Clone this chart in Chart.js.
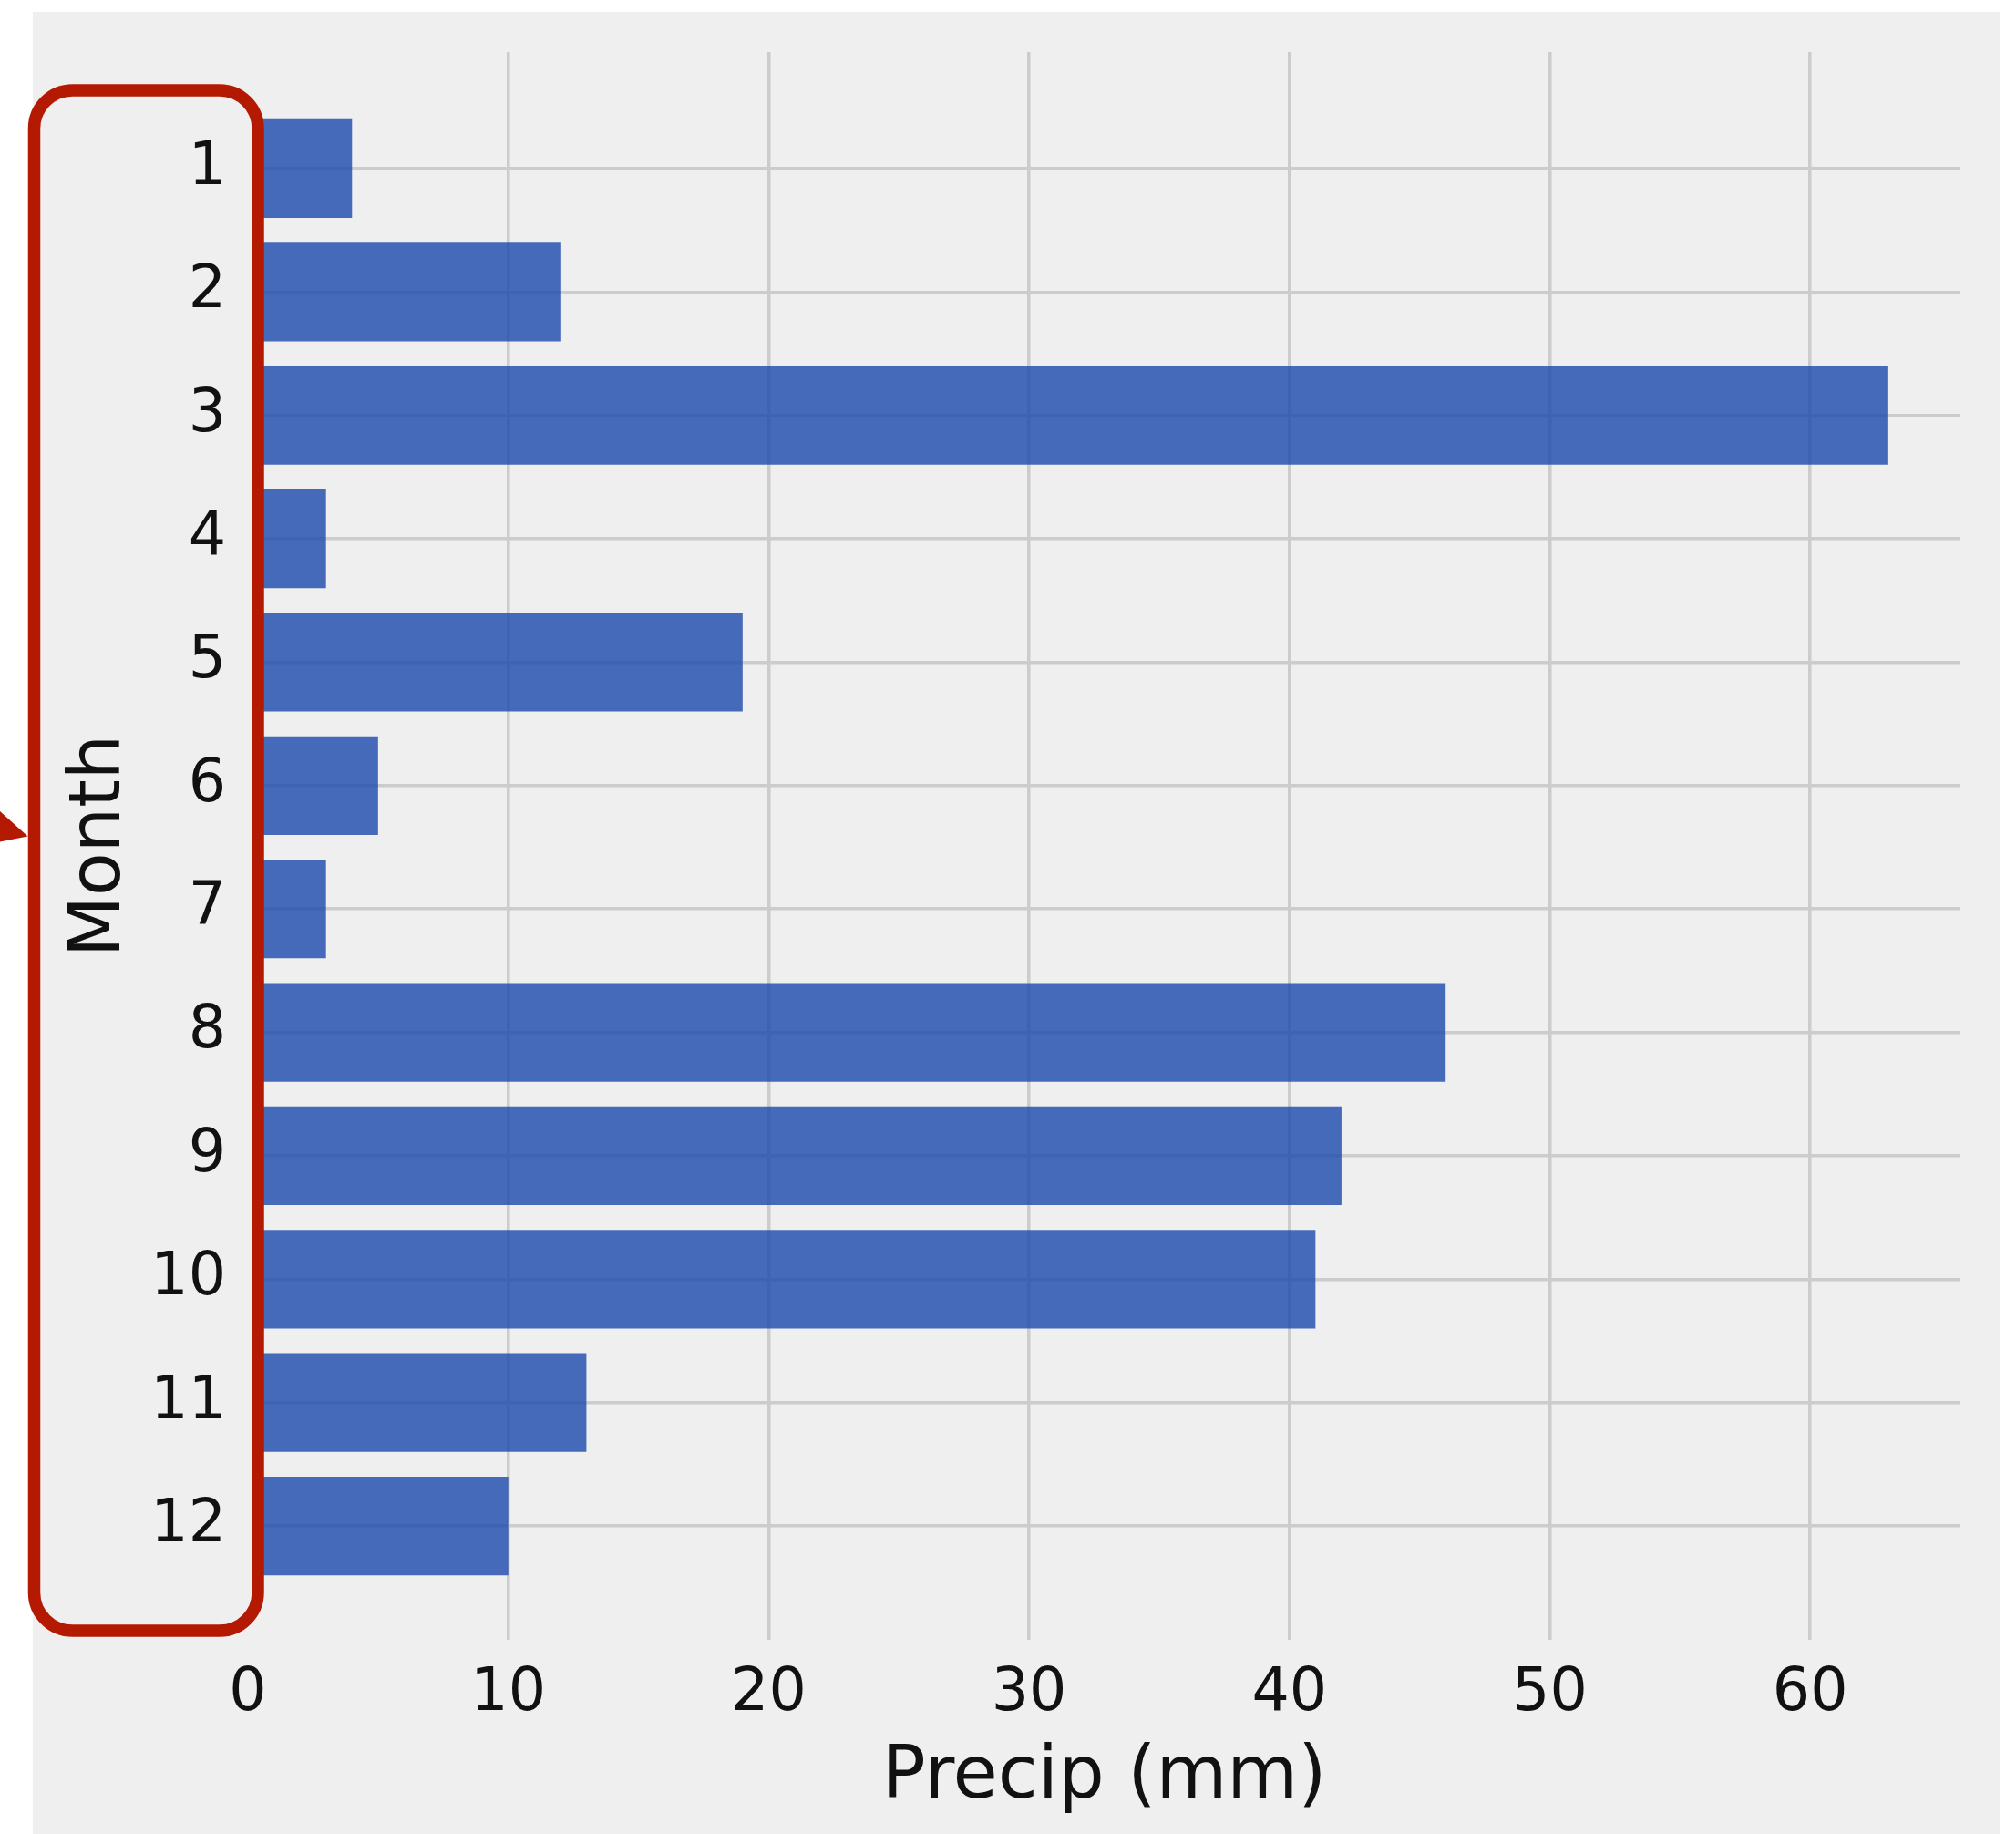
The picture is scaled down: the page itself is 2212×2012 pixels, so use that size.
<!DOCTYPE html>
<html>
<head>
<meta charset="utf-8">
<title>Precip by month</title>
<script src="https://cdn.jsdelivr.net/npm/chart.js@4.4.1/dist/chart.umd.min.js"></script>
<style>
  html, body { margin: 0; padding: 0; background: #ffffff; }
  .chart-container { position: relative; width: 2212px; height: 2012px; }
</style>
</head>
<body>
<div class="chart-container"><canvas id="precipChart"></canvas></div>
<script>
// data
const months = [1, 2, 3, 4, 5, 6, 7, 8, 9, 10, 11, 12];
const precip = [4, 12, 63, 3, 19, 5, 3, 46, 42, 41, 13, 10];
const precipTicks = [0, 10, 20, 30, 40, 50, 60];
const monthTitle = "Month";
const precipTitle = "Precip (mm)";

const fontFamily = "'DejaVu Sans', 'Liberation Sans', sans-serif";
const gridColor = "#cccccc";
const panelColor = "#efefef";

// grey figure panel behind everything
const figureBackground = {
  id: "figureBackground",
  beforeDraw(chart) {
    const ctx = chart.ctx;
    ctx.save();
    ctx.fillStyle = "#ffffff";
    ctx.fillRect(0, 0, chart.width, chart.height);
    ctx.fillStyle = panelColor;
    ctx.fillRect(36, 13, 2158, chart.height - 13);
    ctx.restore();
  }
};

// red rounded box round the month labels, plus the arrow tip at the left edge
const highlightBox = {
  id: "highlightBox",
  afterDatasetsDraw(chart) {
    const ctx = chart.ctx;
    const left = 37.5, right = 283, top = 99, bottom = 1789, r = 42;
    ctx.save();
    // box interior hides the start of the bars (tick labels are drawn later)
    ctx.fillStyle = panelColor;
    ctx.fillRect(220, top, right - 220, bottom - top);

    ctx.strokeStyle = "#b41a02";
    ctx.lineWidth = 13.5;
    ctx.beginPath();
    ctx.moveTo(left + r, top);
    ctx.lineTo(right - r, top);
    ctx.arcTo(right, top, right, top + r, r);
    ctx.lineTo(right, bottom - r);
    ctx.arcTo(right, bottom, right - r, bottom, r);
    ctx.lineTo(left + r, bottom);
    ctx.arcTo(left, bottom, left, bottom - r, r);
    ctx.lineTo(left, top + r);
    ctx.arcTo(left, top, left + r, top, r);
    ctx.closePath();
    ctx.stroke();

    ctx.fillStyle = "#b41a02";
    ctx.beginPath();
    ctx.moveTo(30.5, 917.5);
    ctx.lineTo(-20, 872);
    ctx.lineTo(-20, 927.5);
    ctx.closePath();
    ctx.fill();
    ctx.restore();
  }
};

const ctx = document.getElementById("precipChart").getContext("2d");
const chart = new Chart(ctx, {
  type: "bar",
  data: {
    datasets: [
      {
        label: precipTitle,
        data: months.map((m, i) => ({ x: precip[i], y: m })),
        backgroundColor: "rgba(28, 72, 172, 0.8)",
        borderWidth: 0,
        barPercentage: 0.8,
        categoryPercentage: 1.0,
      },
    ],
  },
  options: {
    indexAxis: "y",
    responsive: true,
    maintainAspectRatio: false,
    animation: false,
    layout: {
      autoPadding: false,
      padding: { left: 0, top: 57, right: 61, bottom: 0 }
    },
    plugins: {
      legend: { display: false },
      tooltip: { enabled: false },
    },
    scales: {
      x: {
        type: "linear",
        position: "bottom",
        min: 0,
        max: 65.77,
        afterBuildTicks: (scale) => {
          scale.ticks = precipTicks.map(v => ({ value: v }));
        },
        afterFit: (scale) => {
          scale.height = 213;
        },
        grid: {
          color: (c) => (c.tick && c.tick.value === 0 ? "rgba(0,0,0,0)" : gridColor),
          lineWidth: 3.5,
          drawTicks: false,
        },
        border: { display: false },
        ticks: {
          z: 1,
          padding: 21,
          color: "#111111",
          font: { family: fontFamily, size: 65 },
          maxRotation: 0,
          callback: (v) => String(v),
        },
        title: {
          display: true,
          text: precipTitle,
          color: "#111111",
          font: { family: fontFamily, size: 80, lineHeight: 1 },
          padding: { top: 0, bottom: 21 },
        },
      },
      y: {
        type: "linear",
        position: "left",
        reverse: true,
        offset: false,
        min: 0.055,
        max: 12.923,
        afterBuildTicks: (scale) => {
          scale.ticks = months.map(v => ({ value: v }));
        },
        afterFit: (scale) => {
          scale.width = 272;
          // labels never reach the ends, so no overhang padding
          scale.paddingTop = 0;
          scale.paddingBottom = 0;
        },
        grid: {
          offset: false,
          color: gridColor,
          lineWidth: 3.5,
          drawTicks: false,
        },
        border: { display: false },
        ticks: {
          z: 1,
          padding: 24,
          color: "#111111",
          font: { family: fontFamily, size: 65 },
          callback: (v) => String(v),
        },
        title: {
          display: true,
          text: monthTitle,
          color: "#111111",
          font: { family: fontFamily, size: 78, lineHeight: 1 },
          padding: { top: 72, bottom: 0 },
        },
      },
    },
  },
  plugins: [figureBackground, highlightBox],
});
</script>
</body>
</html>
